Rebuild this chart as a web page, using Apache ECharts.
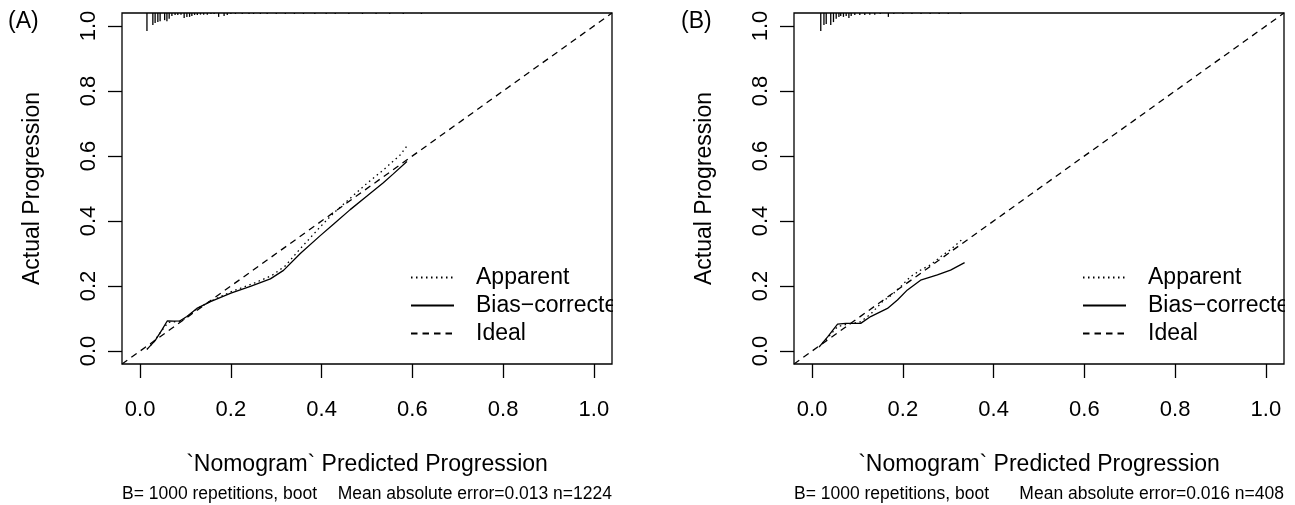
<!DOCTYPE html>
<html>
<head>
<meta charset="utf-8">
<script src="https://cdn.jsdelivr.net/npm/echarts@6/dist/echarts.min.js"></script>
<style>
  html, body { margin: 0; background: #fff; }
  #chart { width: 1295px; height: 505px; }
</style>
</head>
<body>
<div id="chart"></div>
<script>
// axis range (R adds 4% on each side) and tick labels
const axisMin = -0.04;
const axisMax = 1.04;
const tickValues = [0, 0.2, 0.4, 0.6, 0.8, 1.0];
const idealX = [-0.04, 1.04];

// panel A
const apparentA_x = [0.015, 0.03, 0.045, 0.062, 0.075, 0.09, 0.105, 0.125, 0.155, 0.2, 0.25, 0.29, 0.32, 0.353, 0.397, 0.426, 0.463, 0.5, 0.536, 0.573, 0.588];
const apparentA_y = [0.005, 0.028, 0.058, 0.088, 0.09, 0.092, 0.106, 0.13, 0.153, 0.182, 0.208, 0.232, 0.262, 0.315, 0.382, 0.424, 0.47, 0.516, 0.557, 0.603, 0.631];
const biasA_x = [0.015, 0.033, 0.048, 0.06, 0.074, 0.088, 0.103, 0.125, 0.155, 0.2, 0.243, 0.287, 0.316, 0.353, 0.397, 0.426, 0.463, 0.5, 0.536, 0.558, 0.588];
const biasA_y = [0.005, 0.032, 0.065, 0.093, 0.092, 0.093, 0.106, 0.131, 0.152, 0.178, 0.199, 0.222, 0.248, 0.3, 0.355, 0.39, 0.435, 0.477, 0.518, 0.545, 0.583];
const rugA_x = [0.015, 0.028, 0.033, 0.039, 0.044, 0.054, 0.059, 0.064, 0.07, 0.077, 0.083, 0.09, 0.097, 0.103, 0.109, 0.114, 0.12, 0.126, 0.133, 0.14, 0.148, 0.156, 0.163, 0.173, 0.185, 0.192,
  0.2, 0.21, 0.225, 0.24, 0.25, 0.265, 0.28, 0.3, 0.32, 0.34, 0.36, 0.385, 0.41, 0.43, 0.46, 0.49, 0.52, 0.55, 0.58, 0.62];
const rugA_len = [0.055, 0.037, 0.031, 0.028, 0.025, 0.022, 0.025, 0.018, 0.009, 0.006, 0.006, 0.005, 0.015, 0.012, 0.012, 0.009, 0.006, 0.006, 0.005, 0.005, 0.005, 0.003, 0.003, 0.012, 0.009, 0.006,
  0.003, 0.003, 0.003, 0.003, 0.003, 0.003, 0.003, 0.003, 0.003, 0.003, 0.003, 0.003, 0.003, 0.003, 0.003, 0.003, 0.003, 0.003, 0.003, 0.003];

// panel B
const apparentB_x = [0.015, 0.04, 0.056, 0.075, 0.09, 0.107, 0.13, 0.155, 0.177, 0.195, 0.217, 0.239, 0.261, 0.283, 0.305, 0.331];
const apparentB_y = [0.012, 0.05, 0.075, 0.082, 0.085, 0.09, 0.115, 0.152, 0.174, 0.198, 0.229, 0.249, 0.265, 0.29, 0.312, 0.344];
const biasB_x = [0.017, 0.035, 0.056, 0.074, 0.089, 0.107, 0.129, 0.166, 0.188, 0.21, 0.239, 0.276, 0.305, 0.336];
const biasB_y = [0.015, 0.045, 0.083, 0.085, 0.085, 0.085, 0.106, 0.131, 0.157, 0.188, 0.218, 0.234, 0.249, 0.272];
const rugB_x = [0.019, 0.026, 0.031, 0.041, 0.047, 0.053, 0.059, 0.063, 0.069, 0.075, 0.081, 0.086, 0.094, 0.105, 0.116, 0.127, 0.138, 0.15, 0.168,
  0.18, 0.2, 0.22, 0.24, 0.26, 0.28, 0.3, 0.327];
const rugB_len = [0.055, 0.037, 0.034, 0.037, 0.028, 0.018, 0.012, 0.009, 0.012, 0.009, 0.015, 0.009, 0.006, 0.006, 0.006, 0.005, 0.005, 0.003, 0.012,
  0.003, 0.003, 0.003, 0.003, 0.003, 0.003, 0.003, 0.003];

const panelLabels = ['(A)', '(B)'];
const footLeft = ['B= 1000 repetitions, boot', 'B= 1000 repetitions, boot'];
const footRight = ['Mean absolute error=0.013 n=1224', 'Mean absolute error=0.016 n=408'];
const xTitle = '`Nomogram` Predicted Progression';
const yTitle = 'Actual Progression';

const FONT = 'Liberation Sans, Arial, sans-serif';
const zip = (xs, ys) => xs.map((x, i) => [x, ys[i]]);

const chart = echarts.init(document.getElementById('chart'));

const gridLefts = [122, 794];
const gridW = 490;

function xAxisFor(i) {
  return {
    gridIndex: i, type: 'value', min: axisMin, max: axisMax, position: 'bottom',
    axisLine: { show: false, onZero: false },
    axisTick: { customValues: tickValues, length: 14, lineStyle: { color: '#000', width: 1.3 } },
    axisLabel: { customValues: tickValues, formatter: v => v.toFixed(1), margin: 35, fontSize: 22, color: '#000', fontFamily: FONT },
    splitLine: { show: false },
    name: xTitle, nameLocation: 'middle', nameGap: 89,
    nameTextStyle: { fontSize: 23, color: '#000', fontFamily: FONT }
  };
}
function yAxisFor(i) {
  return {
    gridIndex: i, type: 'value', min: axisMin, max: axisMax, position: 'left',
    axisLine: { show: false, onZero: false },
    axisTick: { customValues: tickValues, length: 14, lineStyle: { color: '#000', width: 1.3 } },
    axisLabel: { customValues: tickValues, formatter: v => v.toFixed(1), rotate: 90, margin: 22, fontSize: 22, color: '#000', fontFamily: FONT },
    splitLine: { show: false },
    name: yTitle, nameLocation: 'middle', nameGap: 78,
    nameTextStyle: { fontSize: 23, color: '#000', fontFamily: FONT }
  };
}

function rugSeries(i, xs, lens) {
  return {
    type: 'custom', xAxisIndex: i, yAxisIndex: i, silent: true,
    data: zip(xs, lens),
    renderItem: (params, api) => {
      const top = api.coord([api.value(0), axisMax]);
      const bot = api.coord([api.value(0), axisMax - api.value(1)]);
      return { type: 'line', shape: { x1: top[0], y1: top[1], x2: bot[0], y2: bot[1] }, style: { stroke: '#000', lineWidth: 1.3 } };
    }
  };
}

function curve(i, name, xs, ys, type) {
  return {
    name: name, type: 'line', xAxisIndex: i, yAxisIndex: i,
    data: zip(xs, ys), symbol: 'none', smooth: false, clip: true,
    lineStyle: { color: '#000', width: 1.3, type: type },
    itemStyle: { color: '#000' }
  };
}

const series = [
  curve(0, 'Apparent', apparentA_x, apparentA_y, [1.5, 3.5]),
  curve(0, 'Bias\u2212corrected', biasA_x, biasA_y, 'solid'),
  curve(0, 'Ideal', idealX, idealX, [6.5, 5]),
  rugSeries(0, rugA_x, rugA_len),
  curve(1, 'Apparent', apparentB_x, apparentB_y, [1.5, 3.5]),
  curve(1, 'Bias\u2212corrected', biasB_x, biasB_y, 'solid'),
  curve(1, 'Ideal', idealX, idealX, [6.5, 5]),
  rugSeries(1, rugB_x, rugB_len)
];

const legendFor = left => ({
  orient: 'vertical', left: left, top: 266, padding: 0,
  itemWidth: 43, itemHeight: 14, itemGap: 5,
  selectedMode: false,
  itemStyle: { opacity: 0 },
  data: ['Apparent', 'Bias\u2212corrected', 'Ideal'],
  textStyle: { fontSize: 23, color: '#000', fontFamily: FONT, padding: [0, 0, 0, 17] }
});

const graphics = [];
[0, 1].forEach(i => {
  graphics.push({ type: 'text', left: gridLefts[i], top: 485, style: { text: footLeft[i], font: '17.5px ' + FONT, fill: '#000' } });
  graphics.push({ type: 'text', right: 1295 - gridLefts[i] - gridW, top: 485, style: { text: footRight[i], font: '17.5px ' + FONT, fill: '#000' } });
});
// R clips the legend text at the plot box edge
graphics.push({ type: 'rect', left: 613, top: 285, shape: { width: 60, height: 35 }, style: { fill: '#fff' }, z: 100 });
graphics.push({ type: 'rect', left: 1285, top: 285, shape: { width: 10, height: 35 }, style: { fill: '#fff' }, z: 100 });

chart.setOption({
  animation: false,
  backgroundColor: '#fff',
  title: [
    { text: panelLabels[0], left: 8, top: 10, textStyle: { fontSize: 23, fontWeight: 'normal', color: '#000', fontFamily: FONT }, padding: 0 },
    { text: panelLabels[1], left: 681, top: 10, textStyle: { fontSize: 23, fontWeight: 'normal', color: '#000', fontFamily: FONT }, padding: 0 }
  ],
  grid: [
    { left: gridLefts[0], top: 13, width: gridW, height: 351, show: true, borderColor: '#000', borderWidth: 1.3, backgroundColor: 'transparent' },
    { left: gridLefts[1], top: 13, width: gridW, height: 351, show: true, borderColor: '#000', borderWidth: 1.3, backgroundColor: 'transparent' }
  ],
  xAxis: [xAxisFor(0), xAxisFor(1)],
  yAxis: [yAxisFor(0), yAxisFor(1)],
  legend: [legendFor(410), legendFor(1082)],
  graphic: graphics,
  series: series
});
</script>
</body>
</html>
